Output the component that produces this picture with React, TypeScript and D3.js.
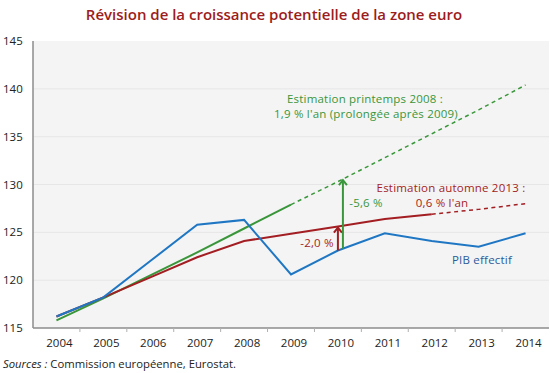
import React from "react";
import * as d3 from "d3";

const years = [2004, 2005, 2006, 2007, 2008, 2009, 2010, 2011, 2012, 2013, 2014];
const pibEffectif = [116.2, 118.2, 122.0, 125.8, 126.3, 120.6, 123.1, 124.9, 124.1, 123.5, 124.9];
const estAutomne2013 = [116.2, 118.2, 120.3, 122.4, 124.1, 124.85, 125.6, 126.4, 126.9, 127.4, 128.0];
const estPrintemps2008 = [115.8, 118.1, 120.5, 122.9, 125.4, 127.9, 130.3, 132.8, 135.3, 137.8, 140.4];
const yTicks = [115, 120, 125, 130, 135, 140, 145];
const gapYear = 2010;
const gapRed = "-2,0 %";
const gapGreen = "-5,6 %";

const FONT = "'Open Sans', sans-serif";
const BLUE = "#1f77c4";
const RED = "#a31e22";
const GREEN = "#3a963a";

export default function App() {
  const W = 550, H = 373;
  const left = 33, right = 549, top = 41, bottom = 328;
  const x = d3.scaleBand<number>().domain(years).range([left, right]).padding(0);
  const bw = x.bandwidth();
  const cx = (yr: number) => (x(yr) as number) + bw / 2;
  const y = d3.scaleLinear().domain([115, 145]).range([bottom, top]);

  const line = d3.line<[number, number]>().x(d => cx(d[0])).y(d => y(d[1]));
  const pts = (arr: number[], from = 0, to = arr.length - 1) =>
    years.map((yr, i) => [yr, arr[i]] as [number, number]).slice(from, to + 1);

  const gi = years.indexOf(gapYear);
  const redX = cx(gapYear);
  const greenX = cx(gapYear) + 5;
  const blueAtGreen = pibEffectif[gi] + (pibEffectif[gi + 1] - pibEffectif[gi]) * (5 / bw);
  const greenAt = estPrintemps2008[gi] + (estPrintemps2008[gi + 1] - estPrintemps2008[gi]) * (5 / bw);

  const arrow = (xp: number, v0: number, v1: number, color: string) => {
    const y0 = y(v0), y1 = y(v1);
    return (
      <g stroke={color} strokeWidth={2} fill="none">
        <line x1={xp} x2={xp} y1={y0} y2={y1 + 1} />
        <polyline points={`${xp - 4},${y1 + 6} ${xp},${y1 + 1} ${xp + 4},${y1 + 6}`} strokeLinejoin="miter" />
      </g>
    );
  };

  const lab = { fontSize: 11.5, fontWeight: 500, letterSpacing: 0.2 } as const;

  return (
    <svg width={W} height={H} style={{ position: "absolute", left: 0, top: 0 }} fontFamily={FONT}>
      <rect width={W} height={H} fill="#fff" />
      <text x={274} y={20} textAnchor="middle" fontSize={15} fontWeight={600} fill="#9c1c20">
        Révision de la croissance potentielle de la zone euro
      </text>
      <rect x={left} y={top} width={right - left} height={bottom - top} fill="#f4f4f4" />
      {yTicks.filter(t => t > 115 && t < 145).map(t => (
        <line key={t} x1={left} x2={right} y1={y(t)} y2={y(t)} stroke="#e6e6e6" strokeWidth={1} />
      ))}
      {yTicks.map(t => (
        <text key={t} x={3} y={y(t) + 4} fontSize={11.5} fill="#222">{t}</text>
      ))}
      <line x1={left} x2={left} y1={top} y2={bottom} stroke="#8c8c8c" strokeWidth={1.5} />
      <line x1={left} x2={right} y1={bottom} y2={bottom} stroke="#8c8c8c" strokeWidth={1.5} />
      {years.slice(1).map(yr => (
        <line key={yr} x1={x(yr)} x2={x(yr)} y1={bottom} y2={bottom + 4} stroke="#b0b0b0" strokeWidth={1} />
      ))}
      {years.map(yr => (
        <text key={yr} x={cx(yr) + 3} y={bottom + 19} textAnchor="middle" fontSize={11.5} fill="#222">{yr}</text>
      ))}

      <path d={line(pts(estPrintemps2008, 0, 5)) || ""} fill="none" stroke={GREEN} strokeWidth={2} />
      <path d={line(pts(estPrintemps2008, 5)) || ""} fill="none" stroke={GREEN} strokeWidth={1.5} strokeDasharray="4,3.5" />
      <path d={line(pts(estAutomne2013, 0, 8)) || ""} fill="none" stroke={RED} strokeWidth={2} />
      <path d={line(pts(estAutomne2013, 8)) || ""} fill="none" stroke={RED} strokeWidth={1.5} strokeDasharray="4,3.5" />
      <path d={line(pts(pibEffectif)) || ""} fill="none" stroke={BLUE} strokeWidth={2} />

      {arrow(redX, pibEffectif[gi], estAutomne2013[gi], RED)}
      {arrow(greenX, blueAtGreen, greenAt, GREEN)}

      <text x={365} y={103} textAnchor="middle" {...lab} fill={GREEN}>Estimation printemps 2008 :</text>
      <text x={366} y={118} textAnchor="middle" {...lab} fill={GREEN}>1,9 % l'an (prolongée après 2009)</text>
      <text x={451} y={192} textAnchor="middle" {...lab} fill={RED}>Estimation automne 2013 :</text>
      <text x={442} y={207} textAnchor="middle" {...lab} fill={RED}>0,6 % l'an</text>
      <text x={366} y={207} textAnchor="middle" {...lab} fill={GREEN}>{gapGreen}</text>
      <text x={317} y={247} textAnchor="middle" {...lab} fill={RED}>{gapRed}</text>
      <text x={482} y={264} textAnchor="middle" {...lab} fill="#2a5b9a">PIB effectif</text>

      <text x={3} y={368} fontSize={11.3} fill="#222">
        <tspan fontStyle="italic">Sources :</tspan> Commission européenne, Eurostat.
      </text>
    </svg>
  );
}
